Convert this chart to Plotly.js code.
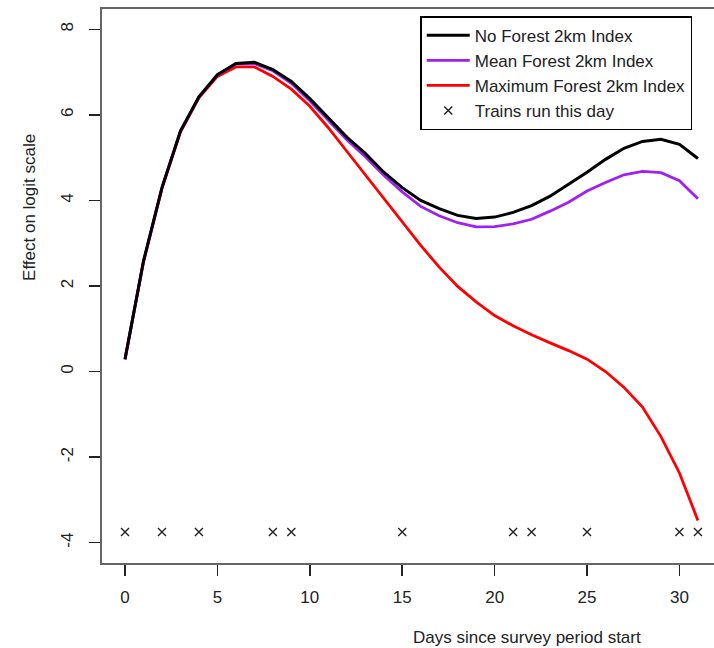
<!DOCTYPE html>
<html>
<head>
<meta charset="utf-8">
<script src="https://cdn.plot.ly/plotly-3.0.1.min.js"></script>
<style>
  html, body { margin: 0; padding: 0; background: #fff; }
  #grafico { width: 714px; height: 648px; }
</style>
</head>
<body>
<div id="grafico"></div>
<script>
/* ============================================================================
 * Data
 * ========================================================================== */

const days = [
    0, 1, 2, 3, 4, 5, 6, 7, 8, 9, 10, 11, 12, 13, 14, 15,
    16, 17, 18, 19, 20, 21, 22, 23, 24, 25, 26, 27, 28, 29, 30, 31
];

const noForest = [
    0.29, 2.58, 4.30, 5.62, 6.42, 6.94, 7.20, 7.23, 7.06, 6.78, 6.38, 5.92,
    5.48, 5.10, 4.66, 4.30, 4.00, 3.81, 3.65, 3.58, 3.61, 3.72, 3.88, 4.10,
    4.37, 4.66, 4.96, 5.22, 5.38, 5.43, 5.31, 4.98
];

const meanForest = [
    0.29, 2.58, 4.30, 5.62, 6.42, 6.93, 7.19, 7.20, 7.03, 6.74, 6.33, 5.87,
    5.42, 5.02, 4.59, 4.20, 3.86, 3.64, 3.48, 3.38, 3.39, 3.45, 3.56, 3.75,
    3.96, 4.22, 4.42, 4.60, 4.68, 4.65, 4.46, 4.04
];

const maxForest = [
    0.28, 2.56, 4.28, 5.60, 6.40, 6.90, 7.12, 7.12, 6.90, 6.60, 6.20, 5.70,
    5.15, 4.60, 4.05, 3.48, 2.95, 2.44, 1.99, 1.63, 1.31, 1.07, 0.86, 0.67,
    0.49, 0.29, 0.00, -0.37, -0.83, -1.52, -2.37, -3.48
];

const trainDays = [0, 2, 4, 8, 9, 15, 21, 22, 25, 30, 31];
const trainLevel = -3.75;

const xTicks = [0, 5, 10, 15, 20, 25, 30];
const yTicks = [-4, -2, 0, 2, 4, 6, 8];


/* ============================================================================
 * Chart
 * ========================================================================== */

const FONT = "Liberation Sans, Arial, sans-serif";
const TEXT_COLOR = "#222222";

function crearGrafico() {

    const traceMax = {
        type: "scatter",
        mode: "lines",
        name: "Maximum Forest 2km Index",
        x: days,
        y: maxForest,
        line: { color: "#ff0000", width: 2.8 },
        legendrank: 3
    };

    const traceMean = {
        type: "scatter",
        mode: "lines",
        name: "Mean Forest 2km Index",
        x: days,
        y: meanForest,
        line: { color: "#a020f0", width: 2.8 },
        legendrank: 2
    };

    const traceNone = {
        type: "scatter",
        mode: "lines",
        name: "No Forest 2km Index",
        x: days,
        y: noForest,
        line: { color: "#000000", width: 3 },
        legendrank: 1
    };

    // trains: one "x" per day a train ran
    const traceTrains = {
        type: "scatter",
        mode: "markers",
        name: "Trains run this day",
        x: trainDays,
        y: trainDays.map(() => trainLevel),
        marker: {
            symbol: "x-thin-open",
            size: 8,
            color: TEXT_COLOR,
            line: { color: TEXT_COLOR, width: 1.4 }
        },
        legendrank: 4
    };

    const layout = {
        width: 714,
        height: 648,
        margin: { l: 102, r: 0, t: 9, b: 85, pad: 0 },
        paper_bgcolor: "#ffffff",
        plot_bgcolor: "#ffffff",
        font: { family: FONT, size: 17, color: TEXT_COLOR },
        showlegend: true,
        legend: {
            x: 0.52,
            y: 0.987,
            xanchor: "left",
            yanchor: "top",
            itemwidth: 43,
            bgcolor: "#ffffff",
            bordercolor: "#000000",
            borderwidth: 1.5,
            font: { family: FONT, size: 17, color: TEXT_COLOR }
        },
        xaxis: {
            range: [-1.245, 31.87],
            tickvals: xTicks,
            ticktext: xTicks.map(String),
            ticks: "outside",
            ticklen: 11,
            tickwidth: 1.5,
            tickcolor: "#222222",
            ticklabelstandoff: 7,
            showline: true,
            linecolor: "#666666",
            linewidth: 2,
            mirror: true,
            showgrid: false,
            zeroline: false,
            tickfont: { family: FONT, size: 17, color: TEXT_COLOR }
        },
        yaxis: {
            range: [-4.475, 8.475],
            tickvals: yTicks,
            ticktext: yTicks.map(String),
            tickangle: -90,
            ticks: "outside",
            ticklen: 11,
            tickwidth: 1.5,
            tickcolor: "#222222",
            ticklabelstandoff: 9,
            showline: true,
            linecolor: "#666666",
            linewidth: 2,
            showgrid: false,
            zeroline: false,
            tickfont: { family: FONT, size: 17, color: TEXT_COLOR }
        },
        annotations: [
            {
                text: "Days since survey period start",
                xref: "paper", yref: "paper",
                x: 0.6944, y: -0.1336,
                xanchor: "center", yanchor: "middle",
                showarrow: false,
                font: { family: FONT, size: 17, color: TEXT_COLOR }
            },
            {
                text: "Effect on logit scale",
                xref: "paper", yref: "paper",
                x: -0.1176, y: 0.641,
                xanchor: "center", yanchor: "middle",
                textangle: -90,
                showarrow: false,
                font: { family: FONT, size: 17, color: TEXT_COLOR }
            }
        ]
    };

    Plotly.newPlot(
        "grafico",
        [traceMax, traceMean, traceNone, traceTrains],
        layout,
        { displayModeBar: false, staticPlot: true }
    );
}


/* ============================================================================
 * Start
 * ========================================================================== */

document.addEventListener("DOMContentLoaded", () => {

    crearGrafico();

});
</script>
</body>
</html>
